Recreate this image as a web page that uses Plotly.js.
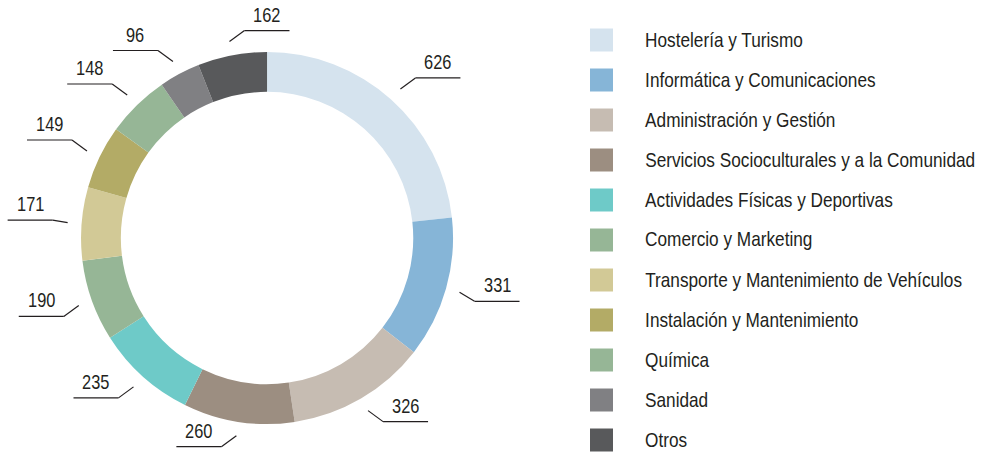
<!DOCTYPE html>
<html>
<head>
<meta charset="utf-8">
<script src="https://cdn.plot.ly/plotly-3.0.1.min.js"></script>
<style>html,body{margin:0;padding:0;background:#fff;}#chart{width:992px;height:468px;}</style>
</head>
<body>
<div id="chart"></div>
<script>
const categories = [
  "Hostelería y Turismo",
  "Informática y Comunicaciones",
  "Administración y Gestión",
  "Servicios Socioculturales y a la Comunidad",
  "Actividades Físicas y Deportivas",
  "Comercio y Marketing",
  "Transporte y Mantenimiento de Vehículos",
  "Instalación y Mantenimiento",
  "Química",
  "Sanidad",
  "Otros"
];
const values = [626, 331, 326, 260, 235, 190, 171, 149, 148, 96, 162];
const colors = ["#d5e3ee", "#86b5d7", "#c6bcb2", "#9c8e81", "#6ecac8", "#96b696",
                "#d2c996", "#b3ab66", "#96b696", "#808083", "#58595b"];

const W = 992, H = 468;
const domX = [0.0817, 0.4567];
const domY = [0.0940, 0.8889];
const cx = (domX[0] + domX[1]) / 2 * W;
const cy = (1 - (domY[0] + domY[1]) / 2) * H;
const rOuter = (domY[1] - domY[0]) * H / 2;

const px = x => x / W;
const py = y => 1 - y / H;
const ink = "#231f20";
const font = "'Liberation Sans', Arial, sans-serif";
const squeeze = 0.82;   // narrow (condensed) rendering of the typeface

const shapes = [];
const annotations = [];
const anchors = [];

// value labels with leader lines
const total = values.reduce((a, b) => a + b, 0);
let cum = 0;
const r0 = rOuter + 14, hlen = 45;
values.forEach((v, i) => {
  const a = (cum + v / 2) / total * 2 * Math.PI;
  cum += v;
  const s = Math.sin(a), c = Math.cos(a);
  const dir = c > 0.9 ? 1 : (s >= 0 ? 1 : -1);
  const x0 = cx + r0 * s, y0 = cy - r0 * c;
  const x1 = x0 + dir * 15;
  const y1 = y0 - 11 * Math.max(-1, Math.min(1, c * 3));
  const x2 = x1 + dir * hlen;
  shapes.push({type: "line", xref: "paper", yref: "paper",
    x0: px(x0), y0: py(y0), x1: px(x1), y1: py(y1), line: {color: ink, width: 1.2}});
  shapes.push({type: "line", xref: "paper", yref: "paper",
    x0: px(x1), y0: py(y1), x1: px(x2), y1: py(y1), line: {color: ink, width: 1.2}});
  annotations.push({xref: "paper", yref: "paper", x: px((x1 + x2) / 2), y: py(y1 - 3),
    text: String(v), showarrow: false, xanchor: "center", yanchor: "bottom",
    font: {family: font, size: 20, color: ink}});
  anchors.push("50% 50%");
});

// legend
const legX = 590, legY0 = 40, legStep = 40, sq = 23, textX = 643;
categories.forEach((cat, i) => {
  const yc = legY0 + i * legStep;
  shapes.push({type: "rect", xref: "paper", yref: "paper",
    x0: px(legX), x1: px(legX + sq), y0: py(yc - sq / 2), y1: py(yc + sq / 2),
    fillcolor: colors[i], line: {width: 0}});
  annotations.push({xref: "paper", yref: "paper", x: px(textX), y: py(yc - 1),
    text: cat, showarrow: false, xanchor: "left", yanchor: "middle",
    font: {family: font, size: 21, color: ink}});
  anchors.push("0% 50%");
});

const data = [{
  type: "pie",
  labels: categories,
  values: values,
  marker: {colors: colors, line: {width: 0}},
  hole: 0.786,
  sort: false,
  direction: "clockwise",
  rotation: 0,
  textinfo: "none",
  hoverinfo: "label+value",
  showlegend: false,
  domain: {x: domX, y: domY}
}];

const layout = {
  width: W, height: H,
  margin: {l: 0, r: 0, t: 0, b: 0},
  paper_bgcolor: "#ffffff",
  showlegend: false,
  shapes: shapes,
  annotations: annotations
};

Plotly.newPlot("chart", data, layout, {displayModeBar: false, staticPlot: true}).then(gd => {
  gd.querySelectorAll("g.annotation").forEach(g => {
    const idx = +g.getAttribute("data-index");
    const t = g.querySelector("text.annotation-text");
    if (!t) return;
    t.style.transformBox = "fill-box";
    t.style.transformOrigin = anchors[idx];
    t.style.transform = "scaleX(" + squeeze + ")";
  });
});
</script>
</body>
</html>
